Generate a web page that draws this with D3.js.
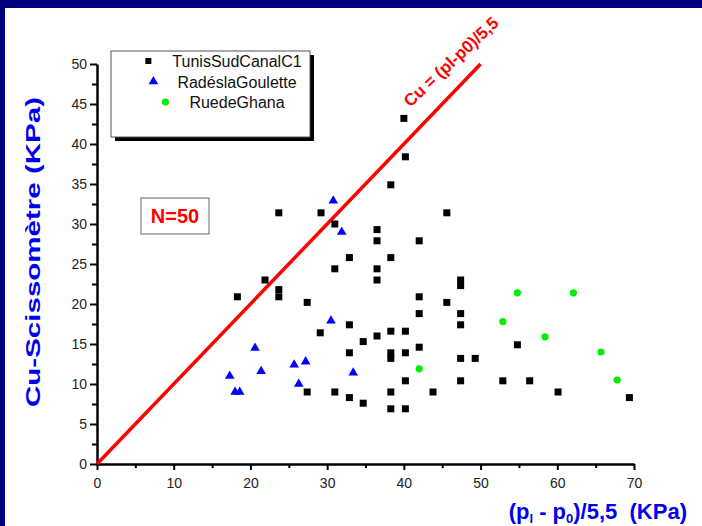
<!DOCTYPE html>
<html>
<head>
<meta charset="utf-8">
<script src="https://cdn.jsdelivr.net/npm/d3@7"></script>
<style>
  body { margin: 0; background: #000080; }
  svg { display: block; font-family: "Liberation Sans", Arial, sans-serif; }
</style>
</head>
<body>
<svg width="702" height="526"></svg>
<script>
// data
var tunisX = [23.7, 21.9, 23.7, 23.7, 18.3, 27.4, 40.0, 40.2, 38.3, 29.2, 45.6, 31.0, 36.5, 36.5, 42.0, 32.9, 38.3, 31.0, 36.5, 36.5,
              47.4, 47.4, 42.0, 45.6, 42.0, 47.4, 32.9, 47.4, 38.3, 40.2, 36.5, 34.7, 42.0, 32.9, 38.3, 38.3, 40.2, 47.4, 49.3, 54.8,
              40.2, 47.4, 52.9, 56.4, 31.0, 38.3, 43.8, 60.1, 32.9, 34.7, 38.3, 40.2, 69.4, 29.1, 27.4];
var tunisY = [31.4, 23.0, 21.8, 20.9, 20.9, 20.2, 43.2, 38.4, 34.9, 31.4, 31.4, 30.0, 29.3, 27.9, 27.9, 25.8, 25.8, 24.4, 24.4, 23.0,
              23.0, 22.3, 20.9, 20.2, 18.8, 18.8, 17.4, 17.4, 16.6, 16.6, 16.0, 15.3, 14.6, 13.9, 13.9, 13.2, 13.9, 13.2, 13.2, 14.9,
              10.4, 10.4, 10.4, 10.4, 9.0, 9.0, 9.0, 9.0, 8.3, 7.6, 6.9, 6.9, 8.3, 16.4, 9.0];
var radesX = [17.3, 18.0, 18.6, 20.6, 21.4, 25.7, 26.3, 27.2, 30.5, 30.8, 31.9, 33.4];
var radesY = [11.0, 9.0, 9.0, 14.5, 11.6, 12.4, 10.0, 12.8, 17.9, 32.9, 29.0, 11.4];
var ghanaX = [42.0, 52.9, 54.8, 58.4, 62.1, 65.7, 67.8];
var ghanaY = [11.9, 17.8, 21.4, 15.9, 21.4, 14.0, 10.5];
var seriesNames = ["TunisSudCanalC1", "RadéslaGoulette", "RuedeGhana"];
var xTicks = [0, 10, 20, 30, 40, 50, 60, 70];
var yTicks = [0, 5, 10, 15, 20, 25, 30, 35, 40, 45, 50];
var lineEnd = 50; // Cu = (pl-p0)/5,5 drawn from 0 to 50

var svg = d3.select("svg");

// background: navy frame, white slide
svg.append("rect").attr("width", 702).attr("height", 526).attr("fill", "#000080");
svg.append("rect").attr("x", 5).attr("y", 8).attr("width", 697).attr("height", 518).attr("fill", "#fff");

var x = d3.scaleLinear().domain([0, 70]).range([97, 634]);
var y = d3.scaleLinear().domain([0, 50]).range([464, 64]);

// minor ticks
svg.append("g").attr("transform", "translate(0,464)")
  .call(d3.axisBottom(x).tickValues(d3.range(5, 70, 10)).tickSize(4).tickFormat(""))
  .call(function(g) { g.select(".domain").remove(); g.selectAll("line").attr("stroke-width", 2); });
svg.append("g").attr("transform", "translate(97,0)")
  .call(d3.axisLeft(y).tickValues(d3.range(2.5, 50, 5)).tickSize(5).tickFormat(""))
  .call(function(g) { g.select(".domain").remove(); g.selectAll("line").attr("stroke-width", 2); });

// main axes
var xAxis = svg.append("g").attr("transform", "translate(0,464)")
  .call(d3.axisBottom(x).tickValues(xTicks).tickSize(6).tickSizeOuter(0));
var yAxis = svg.append("g").attr("transform", "translate(97,0)")
  .call(d3.axisLeft(y).tickValues(yTicks).tickSize(7).tickSizeOuter(0));
[xAxis, yAxis].forEach(function(g) {
  g.select(".domain").attr("stroke-width", 2.5);
  g.selectAll("line").attr("stroke-width", 2);
  g.selectAll("text").attr("font-size", 14).attr("fill", "#222")
    .attr("font-family", "Liberation Sans, Arial, sans-serif");
});
xAxis.selectAll("text").attr("dy", "1.05em");
yAxis.selectAll("text").attr("x", -10);

// red reference line
svg.append("line")
  .attr("x1", x(0)).attr("y1", y(0))
  .attr("x2", x(lineEnd)).attr("y2", y(lineEnd))
  .attr("stroke", "#ff0000").attr("stroke-width", 3.5);

svg.append("text")
  .attr("transform", "translate(455,66) rotate(-43)")
  .attr("text-anchor", "middle")
  .attr("font-size", 17).attr("font-weight", "bold").attr("fill", "#ff0000")
  .text("Cu = (pl-p0)/5,5");

// points
svg.selectAll(".sq").data(d3.zip(tunisX, tunisY)).enter().append("rect")
  .attr("x", function(d) { return x(d[0]) - 3.5; })
  .attr("y", function(d) { return y(d[1]) - 3.5; })
  .attr("width", 7).attr("height", 7).attr("fill", "#000");

var tri = d3.symbol().type(d3.symbolTriangle).size(40);
svg.selectAll(".tri").data(d3.zip(radesX, radesY)).enter().append("path")
  .attr("d", tri)
  .attr("transform", function(d) { return "translate(" + x(d[0]) + "," + y(d[1]) + ")"; })
  .attr("fill", "#0000ff");

svg.selectAll(".dot").data(d3.zip(ghanaX, ghanaY)).enter().append("circle")
  .attr("cx", function(d) { return x(d[0]); })
  .attr("cy", function(d) { return y(d[1]); })
  .attr("r", 3.6).attr("fill", "#00ee00");

// legend
svg.append("rect").attr("x", 115).attr("y", 55).attr("width", 199).attr("height", 86).attr("fill", "#000");
svg.append("rect").attr("x", 111).attr("y", 51).attr("width", 199).attr("height", 86)
  .attr("fill", "#fff").attr("stroke", "#555").attr("stroke-width", 1);

seriesNames.forEach(function(name, i) {
  var cy = 61 + i * 20.5;
  var t = svg.append("text").attr("x", 237).attr("y", cy + 6)
    .attr("text-anchor", "middle").attr("font-size", 16).attr("fill", "#111").text(name);
  var sx = 237 - t.node().getComputedTextLength() / 2 - 24;
  if (i === 0) {
    svg.append("rect").attr("x", sx - 3).attr("y", cy - 3).attr("width", 6).attr("height", 6).attr("fill", "#000");
  } else if (i === 1) {
    svg.append("path").attr("d", tri).attr("transform", "translate(" + sx + "," + cy + ")").attr("fill", "#0000ff");
  } else {
    svg.append("circle").attr("cx", sx).attr("cy", cy).attr("r", 3.6).attr("fill", "#00ee00");
  }
});

// N=50 box
svg.append("rect").attr("x", 141).attr("y", 198).attr("width", 68).attr("height", 36)
  .attr("fill", "#fff").attr("stroke", "#666");
svg.append("text").attr("x", 175).attr("y", 223).attr("text-anchor", "middle")
  .attr("font-size", 20).attr("font-weight", "bold").attr("fill", "#ff0000").text("N=50");

// axis titles
svg.append("text")
  .attr("transform", "translate(40,252) rotate(-90)")
  .attr("text-anchor", "middle")
  .attr("font-size", 20).attr("font-weight", "bold").attr("fill", "#0000ee")
  .attr("textLength", 310).attr("lengthAdjust", "spacingAndGlyphs")
  .text("Cu-Scissomètre (KPa)");

var xt = svg.append("text").attr("x", 687).attr("y", 519).attr("text-anchor", "end")
  .attr("font-size", 22).attr("font-weight", "bold").attr("fill", "#0000ee");
xt.append("tspan").text("(p");
xt.append("tspan").attr("font-size", 13).attr("dy", 4).text("l");
xt.append("tspan").attr("dy", -4).text(" - p");
xt.append("tspan").attr("font-size", 13).attr("dy", 4).text("0");
xt.append("tspan").attr("dy", -4).text(")/5,5\u00a0\u00a0(KPa)");
</script>
</body>
</html>
